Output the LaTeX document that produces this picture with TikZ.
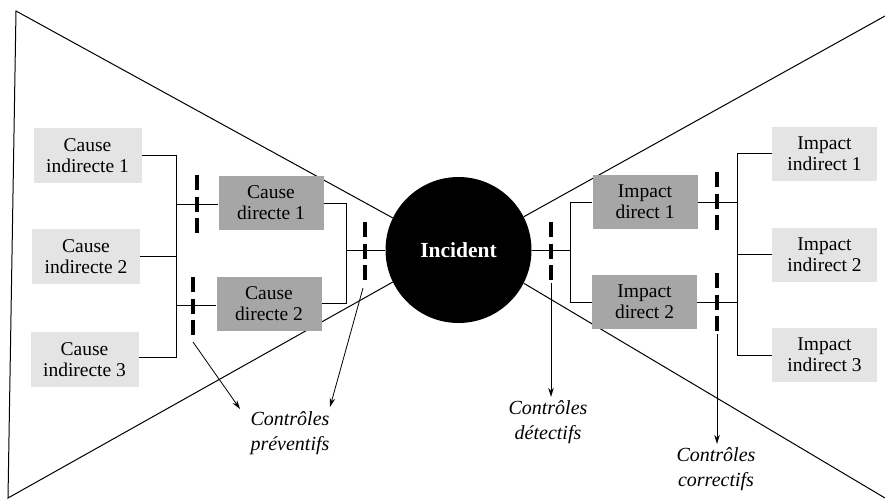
\documentclass[tikz,border=0pt]{standalone}
\usepackage{fontspec}
\setmainfont{Liberation Serif}
\usetikzlibrary{arrows.meta}
\definecolor{lightbox}{HTML}{E4E4E4}
\definecolor{darkbox}{HTML}{A6A6A6}
\tikzset{
  lbox/.style={fill=lightbox, minimum width=108pt, minimum height=55pt, align=center, inner sep=0pt, font=\fontsize{19.5}{21}\selectfont},
  dbox/.style={fill=darkbox, minimum width=105pt, minimum height=54pt, align=center, inner sep=0pt, font=\fontsize{19.5}{21}\selectfont},
  link/.style={line width=0.9pt},
  ctrl/.style={line width=4.5pt, dash pattern=on 15pt off 6.5pt},
  arr/.style={line width=0.8pt, -{Stealth[length=9pt,width=5.5pt]}},
  lab/.style={align=center, font=\itshape\fontsize{20}{25}\selectfont},
  outline/.style={line width=1pt}
}
\begin{document}
\begin{tikzpicture}[x=1pt,y=-1pt]
\useasboundingbox (0,0) rectangle (885,501);
\fill[white] (0,0) rectangle (885,501);
% incident
\node[circle, fill=black, minimum size=146pt, inner sep=0pt, text=white, font=\bfseries\fontsize{21.5}{24}\selectfont] (inc) at (458.5,250) {Incident};
% bow tie outline
\coordinate (tl) at (16,11);
\coordinate (bl) at (8,498);
\coordinate (tr) at (885,16);
\coordinate (br) at (885,498);
\draw[outline] (inc.154) -- (tl) -- (bl) -- (inc.206);
\draw[outline] (inc.27) -- (tr);
\draw[outline] (inc.-27) -- (br);
% left boxes
\node[lbox] (ci1) at (87.5,155.5) {Cause\\indirecte 1};
\node[lbox] (ci2) at (86,256.5) {Cause\\indirecte 2};
\node[lbox] (ci3) at (84.5,359.5) {Cause\\indirecte 3};
\node[dbox] (cd1) at (271,203) {Cause\\directe 1};
\node[dbox] (cd2) at (269,303.5) {Cause\\directe 2};
% right boxes
\node[dbox] (id1) at (645,202) {Impact\\direct 1};
\node[dbox] (id2) at (644.5,302) {Impact\\direct 2};
\node[lbox, minimum width=105pt, minimum height=54pt] (ii1) at (824.5,153.5) {Impact\\indirect 1};
\node[lbox, minimum width=105pt, minimum height=54pt] (ii2) at (824.5,254.5) {Impact\\indirect 2};
\node[lbox, minimum width=105pt, minimum height=54pt] (ii3) at (824.5,355) {Impact\\indirect 3};
% left connectors
\coordinate (jl1) at (176,204);
\coordinate (jl2) at (176,305);
\coordinate (jlb) at (176,357);
\coordinate (jm) at (346,303);
\coordinate (jmi) at (346,250);
\draw[link] (ci1.east) -| (jlb) -- (ci3.east |- jlb);
\draw[link] (ci2.east) -- (ci2.east -| jl1);
\draw[link] (jl1) -- (cd1.west |- jl1);
\draw[link] (jl2) -- (cd2.west |- jl2);
\draw[link] (cd1.east) -| (jm) -- (cd2.east |- jm);
\draw[link] (jmi) -- (inc.west);
% right connectors
\coordinate (jr) at (570,250);
\coordinate (jrb) at (570,302);
\coordinate (jx) at (737,355);
\draw[link] (inc.east) -- (jr);
\draw[link] (id1.west) -| (jrb) -- (id2.west);
\draw[link] (ii1.west) -| (jx) -- (ii3.west);
\draw[link] (ii2.west) -- (ii2.west -| jx);
\draw[link] (id1.east) -- (id1.east -| jx);
\draw[link] (id2.east) -- (id2.east -| jx);
% control marks
\coordinate (m1t) at (197,175); \coordinate (m1b) at (197,235);
\coordinate (m2t) at (193,277); \coordinate (m2b) at (193,338);
\coordinate (m3t) at (365,222); \coordinate (m3b) at (365,282);
\coordinate (m4t) at (551,222); \coordinate (m4b) at (551,283);
\coordinate (m5t) at (717,172); \coordinate (m5b) at (717,233);
\coordinate (m6t) at (717,273); \coordinate (m6b) at (717,334);
\foreach \a/\b in {m1t/m1b, m2t/m2b, m3t/m3b, m4t/m4b, m5t/m5b, m6t/m6b}
  \draw[ctrl] (\a) -- (\b);
% labels
\node[lab] (prev) at (290,433) {Contrôles\\préventifs};
\node[lab] (det) at (548,422) {Contrôles\\détectifs};
\node[lab] (cor) at (716,469) {Contrôles\\correctifs};
% arrows
\coordinate (a1s) at (193,342);
\coordinate (a1e) at (240,409);
\coordinate (a2s) at (363,288);
\coordinate (a2e) at (330,407);
\draw[arr] (a1s) -- (a1e);
\draw[arr] (a2s) -- (a2e);
\draw[arr] (m4b) -- (det.north -| m4b);
\draw[arr] (m6b) -- (cor.north -| m6b);
\end{tikzpicture}
\end{document}
